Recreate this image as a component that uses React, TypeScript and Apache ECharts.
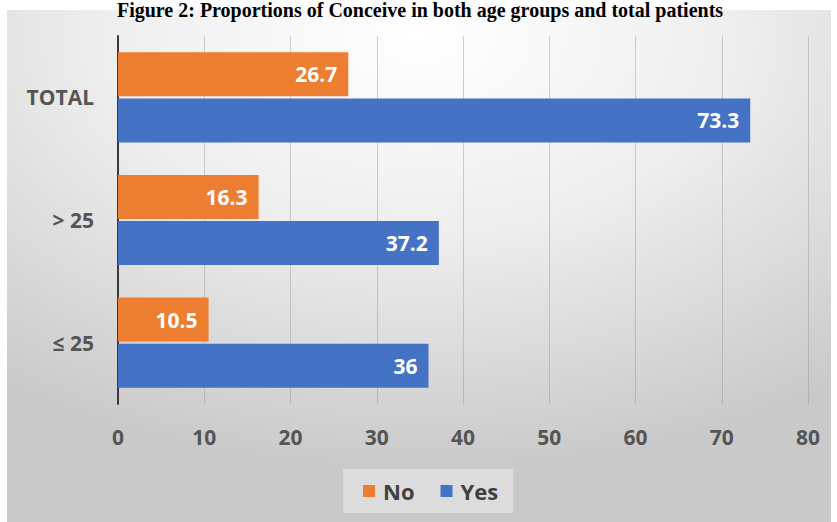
import React, { useEffect, useRef } from "react";
import * as echarts from "echarts";

const categories = ["≤ 25", "> 25", "TOTAL"];
const noValues = [10.5, 16.3, 26.7];
const yesValues = [36, 37.2, 73.3];
const seriesNames = ["No", "Yes"];
const xTicks = { min: 0, max: 80, interval: 10 };
const titleText = "Figure 2: Proportions of Conceive in both age groups and total patients";

export default function App() {
  const ref = useRef<HTMLDivElement>(null);
  useEffect(() => {
    document.body.style.margin = "0";
    const chart = echarts.init(ref.current!, undefined, { renderer: "svg" });
    const labelFont = "'Open Sans', 'Liberation Sans', sans-serif";
    const dataLabel = {
      show: true,
      position: "insideRight",
      distance: 11,
      color: "#ffffff",
      fontSize: 21,
      fontWeight: "bold",
      fontFamily: labelFont,
    };
    chart.setOption({
      animation: false,
      backgroundColor: "#ffffff",
      graphic: [
        {
          type: "rect",
          z: -10,
          silent: true,
          shape: { x: 7, y: 10, width: 824, height: 512 },
          style: {
            fill: new echarts.graphic.RadialGradient(0.5, 0.05, 0.85, [
              { offset: 0, color: "#ffffff" },
              { offset: 0.45, color: "#eeeeee" },
              { offset: 1, color: "#c9c9c9" },
            ]),
          },
        },
        {
          type: "text",
          x: 420,
          y: 0,
          z: 10,
          style: {
            text: titleText,
            fill: "#000000",
            font: "bold 20px 'Liberation Serif', 'Times New Roman', serif",
            textAlign: "center",
            textVerticalAlign: "top",
          },
        },
      ],
      grid: { left: 118, right: 29, top: 36, bottom: 118, containLabel: false },
      legend: {
        data: seriesNames,
        bottom: 9,
        left: 343,
        itemWidth: 12,
        itemHeight: 12,
        itemGap: 26,
        padding: [11, 15, 11, 20],
        backgroundColor: "rgba(255,255,255,0.35)",
        icon: "rect",
        textStyle: {
          color: "#404040",
          fontSize: 22,
          fontWeight: "bold",
          fontFamily: labelFont,
          padding: [0, 0, 0, 3],
        },
      },
      xAxis: {
        type: "value",
        min: xTicks.min,
        max: xTicks.max,
        interval: xTicks.interval,
        axisLine: { show: false },
        axisTick: { show: false },
        splitLine: { show: true, lineStyle: { color: "rgba(150,150,150,0.45)", width: 1 } },
        axisLabel: { color: "#555555", fontSize: 21, fontWeight: "bold", fontFamily: labelFont, margin: 22 },
      },
      yAxis: {
        type: "category",
        data: categories,
        axisLine: { show: true, lineStyle: { color: "#3a3a3a", width: 2 } },
        axisTick: { show: false },
        axisLabel: { color: "#555555", fontSize: 21, fontWeight: "bold", fontFamily: labelFont, margin: 24 },
      },
      series: [
        {
          name: seriesNames[0],
          type: "bar",
          data: noValues,
          barWidth: 44,
          barGap: "5%",
          itemStyle: { color: "#ED7D31" },
          label: dataLabel,
        },
        {
          name: seriesNames[1],
          type: "bar",
          data: yesValues,
          barWidth: 44,
          barGap: "5%",
          itemStyle: { color: "#4472C4" },
          label: dataLabel,
        },
      ],
    });
    return () => chart.dispose();
  }, []);
  return <div ref={ref} style={{ width: 837, height: 522 }} />;
}
